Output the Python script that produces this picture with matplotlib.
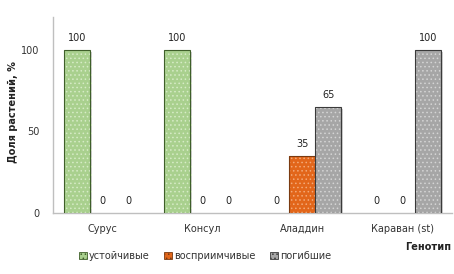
import matplotlib
matplotlib.use("Agg")
import matplotlib.pyplot as plt
import matplotlib.patheffects as pe
from matplotlib.patches import Patch
import numpy as np

categories = ["Сурус", "Консул", "Аладдин", "Караван (st)"]
series_names = ["устойчивые", "восприимчивые", "погибшие"]
ustoich = [100, 100, 0, 0]
vospr = [0, 0, 35, 0]
pogib = [0, 0, 65, 100]
yticks = [0, 50, 100]

fills = ["#a9d08e", "#e2661a", "#a6a6a6"]
dots = ["#d6ebc6", "#f3a978", "#d4d4d4"]
edges = ["#3f5f2a", "#7a3a10", "#3a3a3a"]

plt.rcParams["font.family"] = ["DejaVu Sans"]
plt.rcParams["hatch.linewidth"] = 0.6

fig = plt.figure(figsize=(4.54, 2.74), dpi=100)
ax = fig.add_axes([53/454, 61/274, 399/454, 196/274])

x = np.arange(len(categories))
w = 0.26
data = [ustoich, vospr, pogib]
for i, vals in enumerate(data):
    pos = x + (i - 1) * w
    ax.bar(pos, vals, w, color=fills[i], edgecolor=dots[i], hatch="....",
           linewidth=0, zorder=2,
           path_effects=[pe.SimplePatchShadow(offset=(1.5, -1.5), shadow_rgbFace="#bbbbbb", alpha=0.7), pe.Normal()])
    lw = [0.8 if v > 0 else 0 for v in vals]
    ax.bar(pos, vals, w, color="none", edgecolor=edges[i], linewidth=lw, zorder=3)
    for p, v in zip(pos, vals):
        ax.annotate(str(v), (p, v), xytext=(0, 5), textcoords="offset points",
                    ha="center", va="bottom", fontsize=7, color="#222222")

ax.set_xlim(-0.5, 3.5)
ax.set_ylim(0, 120)
ax.set_yticks(yticks)
ax.set_xticks(x)
ax.set_xticklabels(categories)
ax.tick_params(axis="both", length=0, labelsize=7, colors="#333333")
ax.tick_params(axis="x", pad=8)
ax.tick_params(axis="y", pad=10)
for s in ["top", "right"]:
    ax.spines[s].set_visible(False)
for s in ["left", "bottom"]:
    ax.spines[s].set_color("#bfbfbf")
    ax.spines[s].set_linewidth(1.0)
    ax.spines[s].set_zorder(1)

fig.text(13/454, 1 - 112/274, "Доля растений, %", rotation=90, ha="center", va="center",
         fontsize=7, fontweight="bold", color="#222222")
fig.text(428/454, 1 - 247/274, "Генотип", ha="center", va="center",
         fontsize=7, fontweight="bold", color="#222222")

handles = [Patch(facecolor=fills[i], edgecolor=edges[i], hatch="....", linewidth=0.6) for i in range(3)]
fig.legend(handles, series_names, loc="center", bbox_to_anchor=(205/454, 1 - 256/274), ncol=3,
           frameon=False, fontsize=7, handlelength=0.8, handleheight=0.8, handletextpad=0.2,
           columnspacing=1.5, labelcolor="#333333")

fig.savefig("out.png", dpi=100, facecolor="white")
